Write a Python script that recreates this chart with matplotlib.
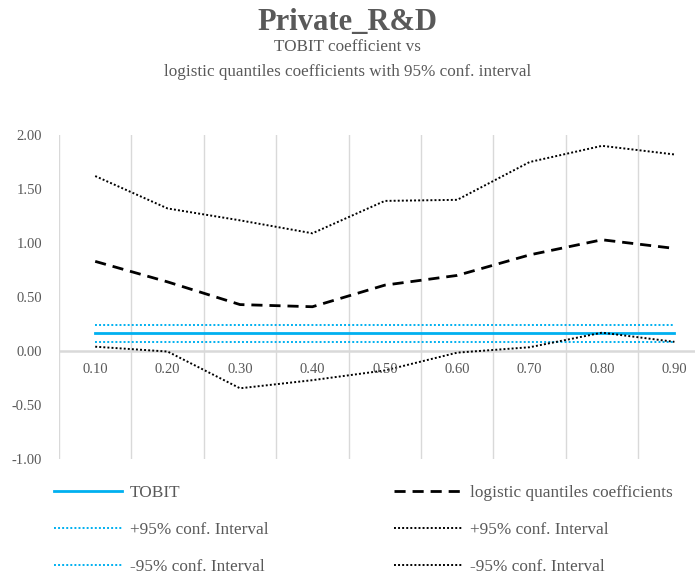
import matplotlib.pyplot as plt
import numpy as np

# Datos: cuantiles y coeficientes
quantiles = ["0.10", "0.20", "0.30", "0.40", "0.50", "0.60", "0.70", "0.80", "0.90"]
logistic_coef = [0.83, 0.64, 0.43, 0.41, 0.61, 0.70, 0.89, 1.03, 0.95]
logistic_upper = [1.62, 1.32, 1.21, 1.09, 1.39, 1.40, 1.75, 1.90, 1.82]
logistic_lower = [0.04, -0.005, -0.345, -0.27, -0.18, -0.015, 0.035, 0.17, 0.085]
tobit_coef = 0.165
tobit_upper = 0.245
tobit_lower = 0.088

plt.rcParams["font.family"] = ["Liberation Serif", "DejaVu Serif"]
gris = "#595959"
azul = "#00B0F0"

fig = plt.figure(figsize=(6.95, 5.80), dpi=100)
ax = fig.add_axes([0.0849, 0.2086, 0.9376, 0.5586])

x = np.arange(len(quantiles))
n = len(quantiles)

ax.plot(x, [tobit_coef] * n, color=azul, lw=2.0, label="TOBIT")
ax.plot(x, [tobit_upper] * n, color=azul, lw=1.4, ls=(0, (1, 1.1)),
        label="+95% conf. Interval")
ax.plot(x, [tobit_lower] * n, color=azul, lw=1.4, ls=(0, (1, 1.1)),
        label="-95% conf. Interval")
ax.plot(x, logistic_coef, color="black", lw=2.0, ls=(0, (4, 2.5)),
        label="logistic quantiles coefficients")
ax.plot(x, logistic_upper, color="black", lw=1.4, ls=(0, (1, 1.1)),
        label="+95% conf. Interval")
ax.plot(x, logistic_lower, color="black", lw=1.4, ls=(0, (1, 1.1)),
        label="-95% conf. Interval")

ax.set_xlim(-0.5, n - 0.5)
ax.set_ylim(-1.0, 2.0)
ax.set_yticks(np.arange(-1.0, 2.01, 0.5))
ax.set_yticklabels([f"{v:.2f}" for v in np.arange(-1.0, 2.01, 0.5)])

# Líneas verticales entre categorías y eje en cero
for b in np.arange(-0.5, n, 1.0):
    ax.axvline(b, color="#D9D9D9", lw=1.0, zorder=0)
ax.axhline(0, color="#D9D9D9", lw=1.8, zorder=0)

ax.set_xticks([])
for xi, lab in zip(x, quantiles):
    ax.text(xi, -0.17, lab, ha="center", va="center", fontsize=10.5, color=gris)

for s in ax.spines.values():
    s.set_visible(False)
ax.tick_params(axis="y", length=0, labelsize=10.5, labelcolor=gris, pad=12)

fig.text(0.5, 0.962, "Private_R&D", ha="center", va="center",
         fontsize=22, fontweight="bold", color=gris)
fig.text(0.5, 0.919, "TOBIT coefficient vs", ha="center", va="center",
         fontsize=12.3, color=gris)
fig.text(0.5, 0.876, "logistic quantiles coefficients with 95% conf. interval",
         ha="center", va="center", fontsize=12.3, color=gris)

fig.legend(loc="upper left", bbox_to_anchor=(0.055, 0.19), ncol=2,
           frameon=False, fontsize=12.4, labelcolor=gris, handlelength=3.95,
           handletextpad=0.47, columnspacing=7.3, labelspacing=1.2)

fig.savefig("out.png", dpi=100)
